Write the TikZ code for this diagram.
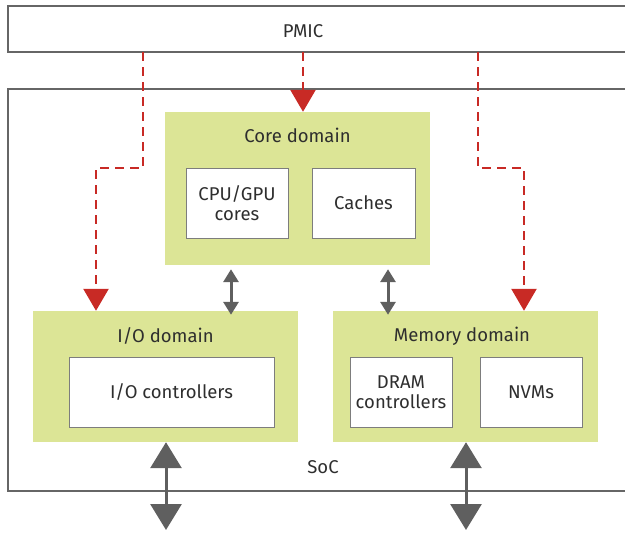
\documentclass[tikz,border=0pt]{standalone}
\usepackage{fontspec}
\setmainfont{Fira Sans}
\usetikzlibrary{arrows.meta}
\definecolor{dgreen}{HTML}{DCE596}
\definecolor{bgray}{HTML}{666666}
\definecolor{agray}{HTML}{5F5F5F}
\definecolor{pred}{HTML}{C82A25}
\definecolor{tgray}{HTML}{2E2E2E}
\begin{document}
\begin{tikzpicture}[x=1pt,y=-1pt,
  outer/.style={draw=bgray,line width=2.5pt},
  domainbox/.style={fill=dgreen,draw=none,inner sep=0pt},
  unitbox/.style={draw=bgray!85,fill=white,line width=0.9pt,align=center,inner sep=0pt,
    font=\fontsize{18.5}{20}\selectfont,text=tgray},
  lbl/.style={font=\fontsize{18.5}{20}\selectfont,text=tgray,inner sep=0pt},
  power/.style={draw=pred,line width=2.5pt,dash pattern=on 9pt off 6pt,
    -{Triangle[width=25pt,length=22pt,fill=pred]}},
  smallbus/.style={draw=agray,line width=3pt,
    {Triangle[width=15pt,length=13pt]}-{Triangle[width=15pt,length=13pt]}},
  bigbus/.style={draw=agray,line width=3pt,
    {Triangle[width=31pt,length=26pt]}-{Triangle[width=31pt,length=26pt]}}
]
\useasboundingbox (0,0) rectangle (625,535);
% PMIC
\node[inner sep=0pt,minimum width=630pt,minimum height=46pt,anchor=north west] (pmic) at (8,6) {};
\draw[outer] (640,6) -- (8,6) -- (8,52) -- (640,52);
\node[lbl] (pmiclbl) at (303,31) {PMIC};
% SoC
\node[inner sep=0pt,minimum width=630pt,minimum height=402pt,anchor=north west] (soc) at (8,89) {};
\draw[outer] (640,89) -- (8,89) -- (8,491) -- (640,491);
\node[lbl] (soclbl) at (323,467) {SoC};
% Core domain
\node[domainbox,minimum width=265pt,minimum height=153pt] (core) at (297.5,188.5) {};
\node[lbl] (corelbl) at (297.5,135) {Core domain};
\node[unitbox,minimum width=102pt,minimum height=70pt] (cpu) at (237,203) {CPU/GPU\\cores};
\node[unitbox,minimum width=103pt,minimum height=70pt] (cache) at (363.5,203) {Caches};
% I/O domain
\node[domainbox,minimum width=265pt,minimum height=131pt] (io) at (165.5,376.5) {};
\node[lbl] (iolbl) at (165.5,336) {I/O domain};
\node[unitbox,minimum width=205pt,minimum height=70pt] (ioc) at (171.5,392) {I/O controllers};
% Memory domain
\node[domainbox,minimum width=265pt,minimum height=131pt] (mem) at (465.5,376.5) {};
\node[lbl] (memlbl) at (462,336) {Memory domain};
\node[unitbox,minimum width=102pt,minimum height=70pt] (dram) at (401,392) {DRAM\\controllers};
\node[unitbox,minimum width=102pt,minimum height=70pt] (nvm) at (531,392) {NVMs};
% power lines
\draw[power] (pmic.south -| 303,0) -- (core.north -| 303,0);
\draw[power] (pmic.south -| 143,0) -- (143,168) -- (96,168) -- (io.north -| 96,0);
\draw[power] (pmic.south -| 478,0) -- (478,168) -- (524,168) -- (mem.north -| 524,0);
% small buses
\draw[smallbus,shorten <=4pt,shorten >=-4pt] (core.south -| 231,0) -- (io.north -| 231,0);
\draw[smallbus,shorten <=4pt,shorten >=-4pt] (core.south -| 388,0) -- (mem.north -| 388,0);
% big buses
\coordinate (ioend) at (166,530);
\coordinate (memend) at (466,530);
\draw[bigbus] (io.south -| 166,0) -- (ioend);
\draw[bigbus] (mem.south -| 466,0) -- (memend);
\end{tikzpicture}
\end{document}
